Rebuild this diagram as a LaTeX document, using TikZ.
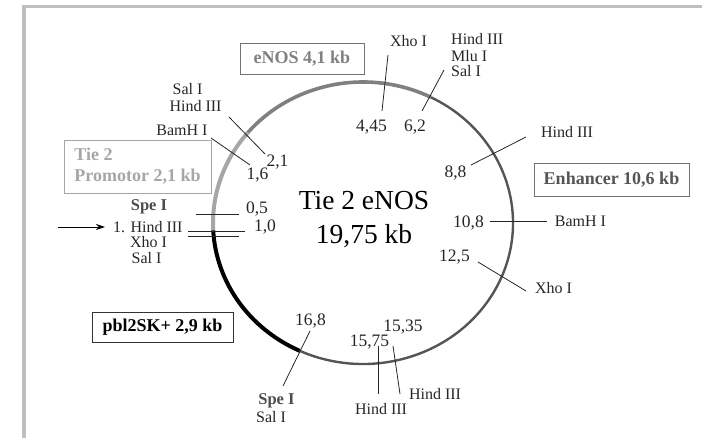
\documentclass[tikz,border=0pt]{standalone}
\usepackage{fontspec}
\usetikzlibrary{arrows.meta}
\setmainfont{Liberation Serif}
\definecolor{promotorgray}{HTML}{A6A6A6}
\definecolor{enosgray}{HTML}{808080}
\definecolor{enhancergray}{HTML}{555555}
\tikzset{
    site/.style={font=\fontsize{16}{17}\selectfont, inner sep=0pt, text=black!85},
    boldsite/.style={font=\fontsize{16.5}{17}\selectfont\bfseries, inner sep=0pt, text=black!70},
    number/.style={font=\fontsize{17.5}{18}\selectfont, inner sep=0pt, text=black!85},
    cut/.style={draw=black!85, line width=0.8pt},
    region/.style={draw=black!55, line width=0.8pt, font=\fontsize{18}{21}\selectfont\bfseries, inner sep=0pt},
}
\begin{document}
\begin{tikzpicture}[x=1pt, y=-1pt, >={Stealth[length=9pt, width=6pt]}]
    \useasboundingbox (0,0) rectangle (702,438);

    % Frame
    \draw[black!25, line width=3.5pt] (702,6.5) -- (24,6.5) -- (24,438);

    % Plasmid ring
    \coordinate (ring) at (363,223);
    \foreach \from/\to/\col/\wid in {-183/-140/promotorgray/4, -140/-63/enosgray/3.6, -63/115/enhancergray/2.4, 115/177/black/4}
        \draw[\col, line width=\wid pt] ([shift={(\from:150 and 141)}]ring) arc[start angle=\from, end angle=\to, x radius=150, y radius=141];

    % Title
    \node[font=\fontsize{27.5}{34}\selectfont, align=center, inner sep=0pt] (title) at (364,220) {Tie 2 eNOS\\19,75 kb};

    % Regions
    \node[region, text=enosgray, minimum width=124pt, minimum height=31pt] (enos) at (302,58.5) {eNOS 4,1 kb};
    \node[region, text=promotorgray, draw=black!35, minimum width=147pt, minimum height=53pt, align=left] (promotor) at (137.5,166.5) {Tie 2\\Promotor 2,1 kb};
    \node[region, text=enhancergray, minimum width=155pt, minimum height=33pt] (enhancer) at (611.5,179.5) {Enhancer 10,6 kb};
    \node[region, text=black, draw=black!80, minimum width=141pt, minimum height=30pt] (pbl) at (162.5,327) {pbl2SK+ 2,9 kb};

    % Left side sites
    \node[site] (sal2) at (187.5,89) {Sal I};
    \node[site] (hind2) at (195.5,106) {Hind III};
    \node[site] (bam2) at (182,130) {BamH I};
    \node[boldsite] (spe1) at (149,207) {Spe I};
    \node[site, anchor=west] (hind1) at (113,227) {1. Hind III};
    \node[site] (xho1) at (148.5,242) {Xho I};
    \node[site] (sal1) at (146.5,258) {Sal I};
    \node[number] (n21) at (277.5,162) {2,1};
    \node[number] (n16) at (257.5,175) {1,6};
    \node[number] (n05) at (257,209) {0,5};
    \node[number] (n10) at (265,227) {1,0};

    % Top and right sites
    \node[site] (xho2) at (408.5,41) {Xho I};
    \node[site, anchor=west] (hind3) at (451,39) {Hind III};
    \node[site, anchor=west] (mlu) at (451,56) {Mlu I};
    \node[site, anchor=west] (sal3) at (451,71) {Sal I};
    \node[number] (n445) at (371.5,127) {4,45};
    \node[number] (n62) at (415,127) {6,2};
    \node[site] (hind4) at (567,132) {Hind III};
    \node[number] (n88) at (455.5,173) {8,8};
    \node[number] (n108) at (468.5,223) {10,8};
    \node[site] (bam3) at (580.5,221) {BamH I};
    \node[number] (n125) at (454.5,257) {12,5};
    \node[site] (xho3) at (553.5,288) {Xho I};

    % Bottom sites
    \node[number] (n1535) at (403,327) {15,35};
    \node[number] (n1575) at (369.5,342) {15,75};
    \node[site] (hind5) at (435,394) {Hind III};
    \node[site] (hind6) at (381,409) {Hind III};
    \node[number] (n168) at (310.5,321) {16,8};
    \node[boldsite] (spe2) at (276.5,401) {Spe I};
    \node[site] (sal4) at (271,417) {Sal I};

    % Cuts
    \foreach \name/\ax/\ay/\bx/\by in {a/229/117/265/154, b/211/138/250/165, c/196/214/239/214, d/188/231/245/231, e/188/236/239/236, f/388/55/382/111, g/444/70/422/111, h/526/137/471/165, i/490/221/547/221, j/478/262/526/291, k/393/346/400/394, l/378/346/378/394, m/310/331/283/386} {
        \coordinate (\name1) at (\ax,\ay);
        \coordinate (\name2) at (\bx,\by);
        \draw[cut] (\name1) -- (\name2);
    }

    % Start arrow
    \coordinate (start) at (58,227);
    \draw[->, line width=0.8pt, shorten >=8pt] (start) -- (hind1.west);
\end{tikzpicture}
\end{document}
